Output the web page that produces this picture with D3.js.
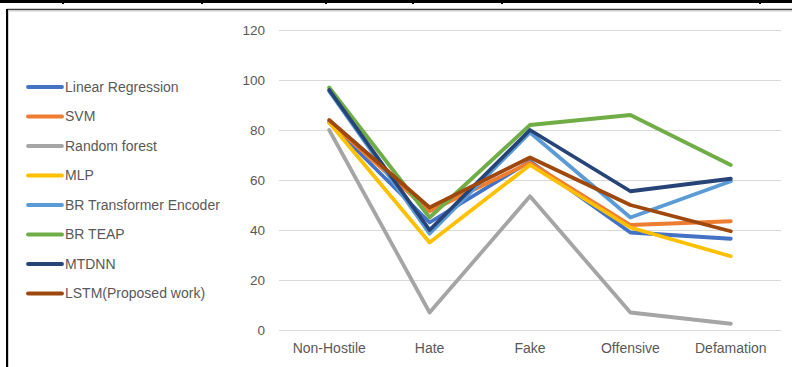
<!DOCTYPE html>
<html>
<head>
<meta charset="utf-8">
<script src="https://cdn.jsdelivr.net/npm/d3@7"></script>
<style>
  html, body { margin: 0; padding: 0; background: #fff; }
  svg { display: block; }
  text { font-family: "Liberation Sans", Arial, sans-serif; fill: #595959; }
</style>
</head>
<body>
<svg id="chart" width="792" height="367"></svg>
<script>
// Categories on the x axis
const categories = ["Non-Hostile", "Hate", "Fake", "Offensive", "Defamation"];

// Model names, in drawing order
const seriesNames = [
  "Linear Regression", "SVM", "Random forest", "MLP",
  "BR Transformer Encoder", "BR TEAP", "MTDNN", "LSTM(Proposed work)"
];

// Scores per model, one value per category
const linearRegression = [83, 43, 67.5, 39, 36.5];
const svm              = [83.5, 47.5, 67, 42, 43.5];
const randomForest     = [80, 7, 53.5, 7, 2.5];
const mlp              = [83, 35, 66, 41, 29.5];
const brTransformer    = [95.5, 38.5, 79, 45, 59.5];
const brTeap           = [97, 45, 82, 86, 66];
const mtdnn            = [96, 40, 80, 55.5, 60.5];
const lstm             = [84, 49, 69, 50, 39.5];

const seriesValues = [linearRegression, svm, randomForest, mlp, brTransformer, brTeap, mtdnn, lstm];
const seriesColors = ["#4472C4", "#ED7D31", "#A5A5A5", "#FFC000", "#5B9BD5", "#70AD47", "#264478", "#9E480E"];

// Y axis ticks
const yTicks = [0, 20, 40, 60, 80, 100, 120];

const svg = d3.select("#chart");

// Surrounding table rule and frame
svg.append("rect").attr("x", 0).attr("y", 0).attr("width", 792).attr("height", 3).attr("fill", "#000");
[63, 202, 326, 413, 502, 760].forEach(x => {
  svg.append("rect").attr("x", x - 1).attr("y", 0).attr("width", 2).attr("height", 4).attr("fill", "#000");
});
svg.append("line").attr("x1", 7).attr("x2", 792).attr("y1", 9.5).attr("y2", 9.5)
  .attr("stroke", "#3a3a3a").attr("stroke-width", 1.5);
svg.append("line").attr("x1", 7).attr("x2", 7).attr("y1", 9).attr("y2", 367)
  .attr("stroke", "#000").attr("stroke-width", 2);
svg.append("line").attr("x1", 8.5).attr("x2", 792).attr("y1", 11).attr("y2", 11)
  .attr("stroke", "#d0d0d0").attr("stroke-width", 1);
svg.append("line").attr("x1", 8.5).attr("x2", 8.5).attr("y1", 11).attr("y2", 367)
  .attr("stroke", "#d0d0d0").attr("stroke-width", 1);

// Plot area
const plot = { left: 279, right: 781, top: 30, bottom: 330 };

const x = d3.scaleBand().domain(categories).range([plot.left, plot.right]);
const y = d3.scaleLinear().domain([0, 120]).range([plot.bottom, plot.top]);

// Gridlines
svg.append("g").selectAll("line").data(yTicks).join("line")
  .attr("x1", plot.left).attr("x2", plot.right)
  .attr("y1", d => Math.round(y(d)) + 0.5).attr("y2", d => Math.round(y(d)) + 0.5)
  .attr("stroke", "#d9d9d9").attr("stroke-width", 1);

// Y axis labels
const yAxis = d3.axisLeft(y).tickValues(yTicks).tickSize(0).tickPadding(14);
const gy = svg.append("g").attr("transform", `translate(${plot.left},0)`).call(yAxis);
gy.select(".domain").remove();
gy.selectAll("text").attr("font-size", 13.5).style("font-family", "'Liberation Sans', Arial, sans-serif").attr("fill", "#595959");

// X axis labels
const xAxis = d3.axisBottom(x).tickSize(0).tickPadding(13);
const gx = svg.append("g").attr("transform", `translate(0,${plot.bottom})`).call(xAxis);
gx.select(".domain").remove();
gx.selectAll("text").attr("font-size", 14).style("font-family", "'Liberation Sans', Arial, sans-serif").attr("fill", "#595959");

// Series lines
const line = d3.line()
  .x((d, i) => x(categories[i]) + x.bandwidth() / 2)
  .y(d => y(d));

svg.append("g").selectAll("path").data(seriesValues).join("path")
  .attr("d", d => line(d))
  .attr("fill", "none")
  .attr("stroke", (d, i) => seriesColors[i])
  .attr("stroke-width", 3.8)
  .attr("stroke-linejoin", "round")
  .attr("stroke-linecap", "round");

// Legend
const legend = svg.append("g");
const legendTop = 87, legendStep = 29.5;
seriesNames.forEach((name, i) => {
  const ly = legendTop + i * legendStep;
  legend.append("line")
    .attr("x1", 28).attr("x2", 62).attr("y1", ly).attr("y2", ly)
    .attr("stroke", seriesColors[i]).attr("stroke-width", 3.8).attr("stroke-linecap", "round");
  legend.append("text")
    .attr("x", 65).attr("y", ly).attr("dy", "0.35em")
    .attr("font-size", 14)
    .text(name);
});
</script>
</body>
</html>
